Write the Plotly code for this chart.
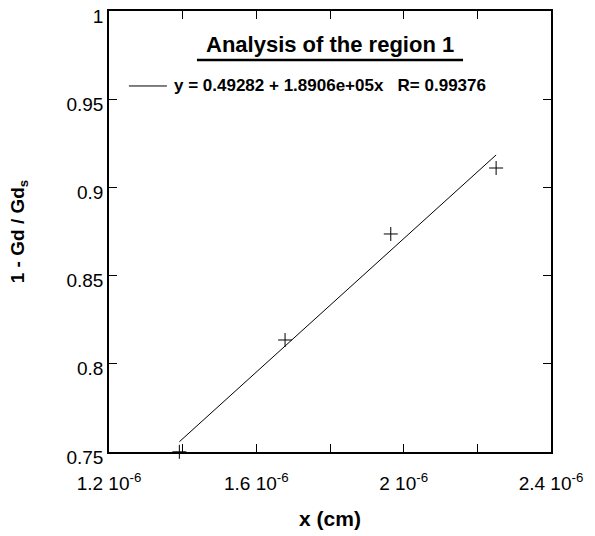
import plotly.graph_objects as go

# Measured points
x_cm = [1.391e-6, 1.678e-6, 1.965e-6, 2.251e-6]
ratio = [0.7501, 0.8135, 0.8736, 0.911]

# Linear fit reported for region 1
intercept = 0.49282
slope = 1.8906e5
r_value = 0.99376

x_tick_vals = [1.2e-6, 1.4e-6, 1.6e-6, 1.8e-6, 2.0e-6, 2.2e-6, 2.4e-6]
x_tick_text = ["1.2 10<sup>-6</sup>", "", "1.6 10<sup>-6</sup>", "",
               "2 10<sup>-6</sup>", "", "2.4 10<sup>-6</sup>"]
y_tick_vals = [0.75, 0.8, 0.85, 0.9, 0.95, 1.0]
y_tick_text = ["0.75", "0.8", "0.85", "0.9", "0.95", "1"]

FONT = "Liberation Sans, Arial, sans-serif"

fit_x = [min(x_cm), max(x_cm)]
fit_y = [intercept + slope * v for v in fit_x]

fit_label = ("<b>y = %.5f + %.4fe+05x\u00a0\u00a0\u00a0R= %.5f</b>"
             % (intercept, slope / 1e5, r_value))

fig = go.Figure()
fig.add_trace(go.Scatter(
    x=fit_x, y=fit_y, mode="lines",
    line=dict(color="black", width=1),
    showlegend=False,
))
fig.add_trace(go.Scatter(
    x=x_cm, y=ratio, mode="markers",
    marker=dict(symbol="cross-thin", size=10, color="black",
                line=dict(color="black", width=1)),
    showlegend=False, cliponaxis=False,
))

axis_common = dict(
    showline=True, linecolor="black", linewidth=1.5, mirror="ticks",
    ticks="inside", ticklen=8, tickwidth=1, tickcolor="black",
    showgrid=False, zeroline=False, ticklabeloverflow="allow",
    automargin=False,
    tickfont=dict(family=FONT, size=19, color="black"),
)

fig.update_xaxes(
    range=[1.2e-6, 2.4e-6], tickmode="array",
    tickvals=x_tick_vals, ticktext=x_tick_text,
    ticklabelstandoff=13,
    title=dict(text="<b>x (cm)</b>", font=dict(family=FONT, size=21, color="black"),
               standoff=19),
    **axis_common,
)
fig.update_yaxes(
    range=[0.75, 1.0], tickmode="array",
    tickvals=y_tick_vals, ticktext=y_tick_text,
    ticklabelshift=5,
    title=dict(text="<b>1 - Gd / Gd<sub>s</sub></b>",
               font=dict(family=FONT, size=19, color="black"), standoff=37),
    **axis_common,
)

# Title with thick underline
fig.add_annotation(
    xref="paper", yref="paper", x=0.5, y=0.925,
    text="<b>Analysis of the region 1</b>", showarrow=False,
    xanchor="center", yanchor="middle",
    font=dict(family=FONT, size=22, color="black"),
)
fig.add_shape(type="line", xref="paper", yref="paper",
              x0=0.199, x1=0.801, y0=0.889, y1=0.889,
              line=dict(color="black", width=2.5))

# Fit key: sample line and equation
fig.add_shape(type="line", xref="paper", yref="paper",
              x0=0.045, x1=0.131, y0=0.830, y1=0.830,
              line=dict(color="black", width=1))
fig.add_annotation(
    xref="paper", yref="paper", x=0.1425, y=0.830,
    text=fit_label, showarrow=False, xanchor="left", yanchor="middle",
    font=dict(family=FONT, size=17, color="black"),
)

fig.update_layout(
    width=595, height=536,
    margin=dict(l=109, r=44, t=11, b=84),
    paper_bgcolor="white", plot_bgcolor="white",
    font=dict(family=FONT, color="black"),
    showlegend=False,
)

fig.write_html("out.html")
